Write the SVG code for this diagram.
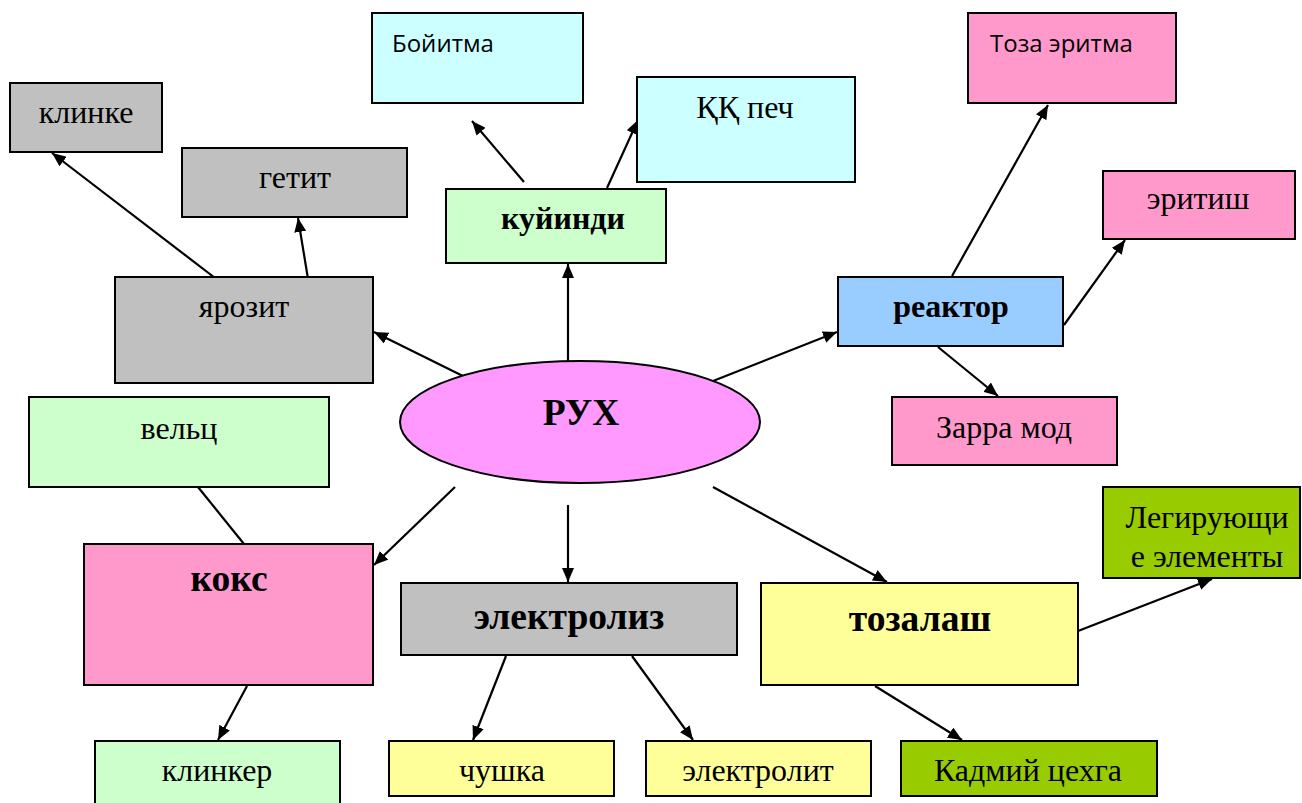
<svg xmlns="http://www.w3.org/2000/svg" width="1302" height="803" viewBox="0 0 1302 803">
<style>
.b{stroke:#000;stroke-width:2}
.t{font-family:"Liberation Serif",serif;font-size:32px;fill:#000;text-anchor:middle}
.tb{font-family:"Liberation Serif",serif;font-size:32px;font-weight:bold;fill:#000;text-anchor:middle}
.tb.big{font-size:37.5px}
.s{font-family:"Open Sans","Noto Sans",sans-serif;font-size:24px;fill:#000}
.c line{stroke:#000;stroke-width:2.2;marker-end:url(#ah)}
.c line.n{marker-end:none}
.gray{fill:#c0c0c0}.cyan{fill:#ccffff}.lg{fill:#ccffcc}.pink{fill:#ff99cc}.blue{fill:#99ccff}.yel{fill:#ffff99}.grn{fill:#99cc00}
</style>
<defs>
<marker id="ah" viewBox="0 0 14 12" markerWidth="14" markerHeight="12" refX="14" refY="6" orient="auto" markerUnits="userSpaceOnUse">
<path d="M0,0 L14,6 L0,12 Z" fill="#000"/>
</marker>
</defs>
<rect width="1302" height="803" fill="#fff"/>
<g class="c" id="connectors">
<line x1="473" y1="381" x2="374" y2="332"/>
<line x1="568" y1="361" x2="568" y2="264"/>
<line x1="713" y1="381" x2="837" y2="332"/>
<line x1="455" y1="487" x2="374" y2="565"/>
<line x1="568" y1="505" x2="568" y2="582"/>
<line x1="713" y1="487" x2="887" y2="582"/>
<line x1="232" y1="291" x2="52" y2="153"/>
<line x1="310" y1="291" x2="298" y2="218"/>
<line x1="524" y1="182" x2="472" y2="121"/>
<line x1="607" y1="188" x2="638" y2="120"/>
<line x1="952" y1="276" x2="1048" y2="105"/>
<line x1="1064" y1="325" x2="1125" y2="240"/>
<line x1="938" y1="347" x2="998" y2="396"/>
<line class="n" x1="198" y1="487" x2="244" y2="544"/>
<line x1="247" y1="686" x2="218" y2="740"/>
<line x1="506" y1="656" x2="473" y2="740"/>
<line x1="632" y1="656" x2="693" y2="740"/>
<line x1="1078" y1="631" x2="1212" y2="579"/>
<line x1="875" y1="686" x2="962" y2="740"/>
</g>
<g id="n-klinke"><rect class="b gray" x="10" y="83" width="152" height="69"/><text class="t" x="86" y="123">клинке</text></g>
<g id="n-getit"><rect class="b gray" x="182" y="148" width="225" height="69"/><text class="t" x="295" y="188">гетит</text></g>
<g id="n-yarozit"><rect class="b gray" x="115" y="277" width="258" height="106"/><text class="t" x="244" y="317">ярозит</text></g>
<g id="n-boyitma"><rect class="b cyan" x="372" y="13" width="211" height="90"/><text class="s" x="392" y="52">Бойитма</text></g>
<g id="n-kkpech"><rect class="b cyan" x="637" y="77" width="218" height="105"/><text class="t" x="745" y="118">ҚҚ печ</text></g>
<g id="n-kuyindi"><rect class="b lg" x="446" y="189" width="220" height="74"/><text class="tb" x="563" y="229">куйинди</text></g>
<g id="n-tozaeritma"><rect class="b pink" x="968" y="13" width="208" height="90"/><text class="s" x="990" y="52">Тоза эритма</text></g>
<g id="n-eritish"><rect class="b pink" x="1103" y="171" width="192" height="68"/><text class="t" x="1198" y="209">эритиш</text></g>
<g id="n-reaktor"><rect class="b blue" x="838" y="277" width="225" height="69"/><text class="tb" x="951" y="317">реактор</text></g>
<g id="n-zarramod"><rect class="b pink" x="892" y="397" width="225" height="68"/><text class="t" x="1004" y="438">Зарра мод</text></g>
<g id="n-rux"><ellipse class="b" cx="580" cy="422" rx="180" ry="61" fill="#ff99ff"/><text class="tb big" x="581" y="425">РУХ</text></g>
<g id="n-velts"><rect class="b lg" x="29" y="397" width="300" height="90"/><text class="t" x="179" y="439">вельц</text></g>
<g id="n-koks"><rect class="b pink" x="84" y="544" width="289" height="141"/><text class="tb big" x="229" y="591">кокс</text></g>
<g id="n-klinker"><rect class="b lg" x="95" y="741" width="245" height="70"/><text class="t" x="217" y="781">клинкер</text></g>
<g id="n-elektroliz"><rect class="b gray" x="401" y="583" width="336" height="72"/><text class="tb big" x="569" y="629">электролиз</text></g>
<g id="n-chushka"><rect class="b yel" x="389" y="741" width="225" height="55"/><text class="t" x="502" y="781">чушка</text></g>
<g id="n-elektrolit"><rect class="b yel" x="646" y="741" width="225" height="55"/><text class="t" x="758" y="781">электролит</text></g>
<g id="n-tozalash"><rect class="b yel" x="761" y="583" width="317" height="102"/><text class="tb big" x="920" y="631">тозалаш</text></g>
<g id="n-legir"><rect class="b grn" x="1103" y="487" width="197" height="91"/><text class="t" x="1207" y="528">Легирующи</text><text class="t" x="1207" y="567">е элементы</text></g>
<g id="n-kadmiy"><rect class="b grn" x="901" y="741" width="256" height="55"/><text class="t" x="1028" y="781">Кадмий цехга</text></g>
</svg>
